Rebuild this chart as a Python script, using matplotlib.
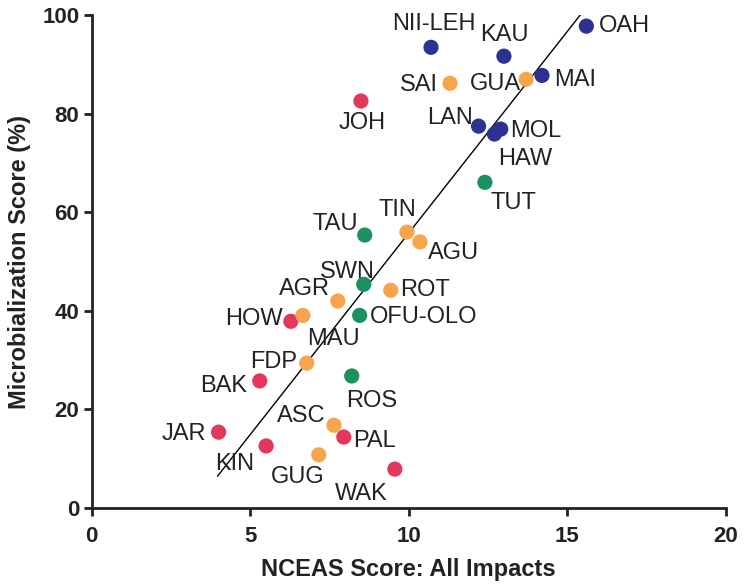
import matplotlib.pyplot as plt

plt.rcParams['font.family'] = ['Liberation Sans', 'DejaVu Sans']

# data
sites = ['OAH', 'KAU', 'NII-LEH', 'SAI', 'GUA', 'MAI', 'LAN', 'MOL', 'HAW', 'TUT',
         'TIN', 'AGU', 'ROT', 'JOH', 'TAU', 'SWN', 'AGR', 'HOW', 'MAU', 'OFU-OLO',
         'FDP', 'ROS', 'BAK', 'ASC', 'PAL', 'JAR', 'KIN', 'GUG', 'WAK']
nceas = [15.6, 13.0, 10.7, 11.3, 13.7, 14.2, 12.2, 12.9, 12.7, 12.4,
         9.94, 10.35, 9.43, 8.49, 8.61, 8.58, 7.76, 6.28, 6.66, 8.45,
         6.78, 8.2, 5.3, 7.64, 7.95, 4.0, 5.5, 7.16, 9.56]
microb = [97.8, 91.7, 93.5, 86.2, 87.0, 87.8, 77.5, 76.9, 75.9, 66.1,
          56.0, 54.0, 44.2, 82.6, 55.4, 45.4, 42.0, 37.9, 39.1, 39.1,
          29.4, 26.8, 25.8, 16.8, 14.4, 15.4, 12.6, 10.8, 7.9]
region = ['hi', 'hi', 'hi', 'ma', 'ma', 'hi', 'hi', 'hi', 'hi', 'sa',
          'ma', 'ma', 'ma', 'pr', 'sa', 'sa', 'ma', 'pr', 'ma', 'sa',
          'ma', 'sa', 'pr', 'ma', 'pr', 'pr', 'pr', 'ma', 'pr']

# regression line ends
fit_x = [3.97, 15.4]
fit_y = [6.5, 100.0]

colors = {'hi': '#2E3192', 'ma': '#F7A54C', 'pr': '#E2385C', 'sa': '#1B9160'}

# label placement: (dx, dy in points, ha, va)
lab = {
    'OAH': (9, 0, 'left', 'center'), 'KAU': (0, 7, 'center', 'bottom'),
    'NII-LEH': (2, 9, 'center', 'bottom'), 'SAI': (-9, -1, 'right', 'center'),
    'GUA': (-4, -3, 'right', 'center'), 'MAI': (9, -3, 'left', 'center'),
    'LAN': (-4, 6, 'right', 'center'), 'MOL': (7, -1, 'left', 'center'),
    'HAW': (3, -10, 'left', 'top'), 'TUT': (4, -7, 'left', 'top'),
    'TIN': (-7, 8, 'center', 'bottom'), 'AGU': (6, -8, 'left', 'center'),
    'ROT': (7, 0, 'left', 'center'), 'JOH': (1, -8, 'center', 'top'),
    'TAU': (-5, 8, 'right', 'center'), 'SWN': (8, 1, 'right', 'bottom'),
    'AGR': (-6, 9, 'right', 'center'), 'HOW': (-6, 2, 'right', 'center'),
    'MAU': (3, -9, 'left', 'top'), 'OFU-OLO': (7, -1, 'left', 'center'),
    'FDP': (-7, 1, 'right', 'center'), 'ROS': (-4, -10, 'left', 'top'),
    'BAK': (-9, -4, 'right', 'center'), 'ASC': (-6, 7, 'right', 'center'),
    'PAL': (7, -3, 'left', 'center'), 'JAR': (-9, -1, 'right', 'center'),
    'KIN': (-9, -13, 'right', 'center'), 'GUG': (4, -16, 'right', 'center'),
    'WAK': (-5, -10, 'right', 'top'),
}

fig = plt.figure(figsize=(7.46, 5.88), dpi=100)
ax = fig.add_axes([0.123, 0.136, 0.85, 0.838])

ax.plot(fit_x, fit_y, color='black', lw=1, zorder=1)
ax.scatter(nceas, microb, s=120, c=[colors[r] for r in region],
           edgecolors='none', zorder=2)

for name, x, y in zip(sites, nceas, microb):
    dx, dy, ha, va = lab[name]
    ax.annotate(name, (x, y), xytext=(dx, dy), textcoords='offset points',
                ha=ha, va=va, fontsize=17, color='#222222')

ax.set_xlim(0, 20)
ax.set_ylim(0, 100)
ax.set_xticks([0, 5, 10, 15, 20])
ax.set_yticks([0, 20, 40, 60, 80, 100])
for s in ['top', 'right']:
    ax.spines[s].set_visible(False)
for s in ['left', 'bottom']:
    ax.spines[s].set_linewidth(2)
    ax.spines[s].set_color('#222222')
ax.tick_params(width=2, length=6, labelsize=16, colors='#222222', pad=3)
ax.tick_params(axis='x', pad=7)
for t in ax.get_xticklabels() + ax.get_yticklabels():
    t.set_fontweight('bold')
ax.set_xlabel('NCEAS Score: All Impacts', fontsize=17, fontweight='bold',
              color='#222222', labelpad=8)
ax.set_ylabel('Microbialization Score (%)', fontsize=17, fontweight='bold',
              color='#222222', labelpad=8)

plt.savefig('out.png', dpi=100)
